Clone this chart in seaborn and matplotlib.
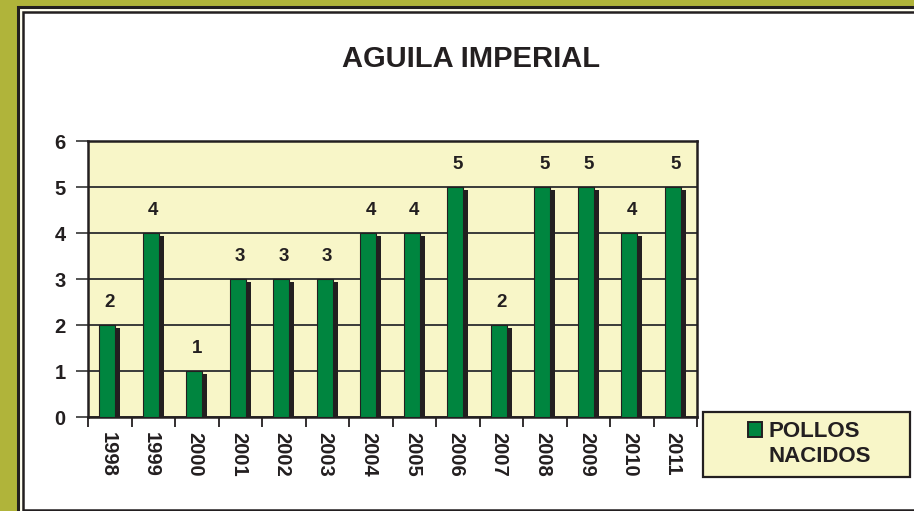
import numpy as np
import pandas as pd
import matplotlib
matplotlib.use("Agg")
import matplotlib.pyplot as plt
from matplotlib.patches import Rectangle
from matplotlib.ticker import FixedLocator
import seaborn as sns

# Data
years = ["1998", "1999", "2000", "2001", "2002", "2003", "2004",
         "2005", "2006", "2007", "2008", "2009", "2010", "2011"]
pollos = [2, 4, 1, 3, 3, 3, 4, 4, 5, 2, 5, 5, 4, 5]
serie = "POLLOS\nNACIDOS"

df = pd.DataFrame({"year": years, "pollos": pollos})

# Colours
olive = "#B0B43A"
cream = "#F8F6C8"
green = "#00853F"
dark = "#231F20"

sns.set_style("white")
plt.rcParams["font.family"] = ["Liberation Sans", "DejaVu Sans"]
plt.rcParams["font.weight"] = "bold"

fig = plt.figure(figsize=(9.14, 5.11), dpi=100, facecolor=olive)
W, H = 914, 511

# frame panels (double black border round a white sheet)
fig.patches.append(Rectangle((17.5 / W, -0.1), 1.0, 1.1 - 7 / H, transform=fig.transFigure,
                             facecolor="#FFFFF0", edgecolor=dark, linewidth=2.2, zorder=-2))
fig.patches.append(Rectangle((23 / W, 1 / H), 1.0, 1 - 13 / H, transform=fig.transFigure,
                             facecolor="white", edgecolor=dark, linewidth=1.8, zorder=-1))

ax = fig.add_axes([88 / W, 1 - 417 / H, (697 - 88) / W, (417 - 141) / H])
ax.set_facecolor(cream)

sns.barplot(data=df, x="year", y="pollos", color=green, width=0.37,
            saturation=1, edgecolor=dark, linewidth=0.8, ax=ax, zorder=3)

# shift bars a little left and add a drop shadow behind each one
for p in list(ax.patches):
    p.set_x(p.get_x() - 0.055)
    ax.add_patch(Rectangle((p.get_x() + 0.115, 0), p.get_width(), p.get_height() - 0.06,
                           facecolor=dark, edgecolor="none", zorder=2))

# value labels
for i, v in enumerate(pollos):
    ax.text(i, v + 0.5, str(v), ha="center", va="center",
            fontsize=13.5, fontweight="bold", color=dark)

ax.set_ylim(0, 6)
ax.set_xlim(-0.5, len(years) - 0.5)
ax.set_yticks(range(0, 7))
ax.yaxis.grid(True, color="#3a3a3a", linewidth=1.4, zorder=1)
ax.set_axisbelow(True)
ax.set_xlabel("")
ax.set_ylabel("")

ax.tick_params(axis="y", which="major", length=9, width=1.3, color="#444444",
               labelsize=14.5, pad=7, labelcolor=dark, direction="out", left=True)
ax.xaxis.set_minor_locator(FixedLocator(np.arange(-0.5, len(years), 1.0)))
ax.tick_params(axis="x", which="minor", length=7, width=1.3, color=dark,
               direction="out", bottom=True)
ax.tick_params(axis="x", which="major", length=0, pad=11, labelsize=14.5,
               labelcolor=dark)
for lab in ax.get_xticklabels():
    lab.set_rotation(270)
    lab.set_rotation_mode("anchor")
    lab.set_fontweight("bold")
    lab.set_ha("left")
    lab.set_va("center_baseline")
for lab in ax.get_yticklabels():
    lab.set_fontweight("bold")

for s in ax.spines.values():
    s.set_color(dark)
    s.set_linewidth(1.8)
    s.set_visible(True)

fig.text(471 / W, 1 - 59 / H, "AGUILA IMPERIAL", ha="center", va="center",
         fontsize=21, fontweight="bold", color=dark)

# legend box drawn by hand so the marker sits on the first line
fig.patches.append(Rectangle((703 / W, 1 - 477 / H), 207 / W, 65 / H,
                             transform=fig.transFigure, facecolor=cream,
                             edgecolor=dark, linewidth=1.6, zorder=5))
fig.patches.append(Rectangle((748 / W, 1 - 437 / H), 14 / W, 15 / H,
                             transform=fig.transFigure, facecolor=green,
                             edgecolor=dark, linewidth=1.4, zorder=6))
fig.text(769 / W, 1 - 444 / H, serie, ha="left", va="center", fontsize=16,
         fontweight="bold", color=dark, linespacing=1.25, zorder=7)

fig.savefig("out.png", dpi=100, facecolor=olive)
